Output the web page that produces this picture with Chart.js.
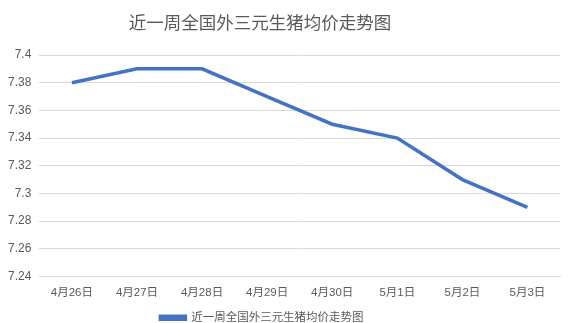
<!DOCTYPE html>
<html>
<head>
<meta charset="utf-8">
<script src="https://cdn.jsdelivr.net/npm/chart.js@4"></script>
<style>
  html, body { margin: 0; padding: 0; background: #fff; }
  #wrap { width: 576px; height: 323px; }
</style>
</head>
<body>
<div id="wrap"><canvas id="grafica" width="576" height="323"></canvas></div>
<script>
const titulo = '近一周全国外三元生猪均价走势图';
const fechas = ['4月26日', '4月27日', '4月28日', '4月29日', '4月30日', '5月1日', '5月2日', '5月3日'];
const precios = [7.38, 7.39, 7.39, 7.37, 7.35, 7.34, 7.31, 7.29];
const yMin = 7.24, yMax = 7.4, yPaso = 0.02;

const fuente = "'Liberation Sans', 'Noto Sans CJK SC', sans-serif";
const gris = '#595959';
const azul = '#4472C4';

// el titulo y la leyenda van centrados un poco a la izquierda, como en la imagen
const centrarIzq = {
  id: 'centrarIzq',
  beforeDraw(chart) {
    if (chart.titleBlock) { chart.titleBlock.left = 0; chart.titleBlock.right = 520; }
    if (chart.legend) {
      chart.legend.left = 0; chart.legend.right = 524;
      chart.legend.top = 310; chart.legend.bottom = 323;
    }
  }
};

let grafica1 = document.getElementById('grafica').getContext('2d');
let chart = new Chart(grafica1, {
  type: 'line',
  data: {
    labels: fechas,
    datasets: [{
      label: titulo,
      data: precios,
      borderColor: azul,
      backgroundColor: azul,
      borderWidth: 3.5,
      pointRadius: 0,
      tension: 0,
      fill: false
    }]
  },
  plugins: [centrarIzq],
  options: {
    responsive: false,
    animation: false,
    layout: { padding: { top: 10, right: 16, bottom: 0, left: 0 } },
    plugins: {
      title: {
        display: true,
        text: titulo,
        color: gris,
        font: { family: fuente, size: 17.5, weight: 'normal' },
        padding: { top: 4, bottom: 20 }
      },
      legend: {
        position: 'bottom',
        labels: {
          color: gris,
          font: { family: fuente, size: 11.5 },
          boxWidth: 25,
          boxHeight: 3,
          padding: 2
        }
      },
      tooltip: { enabled: false }
    },
    scales: {
      x: {
        offset: true,
        grid: { display: false, drawTicks: false },
        border: { color: '#d9d9d9' },
        ticks: { color: gris, font: { family: fuente, size: 11.5 }, padding: 9, maxRotation: 0 },
        afterFit: s => { s.height = 23; }
      },
      y: {
        min: yMin,
        max: yMax,
        grid: { color: '#d9d9d9', drawTicks: false },
        border: { display: false },
        ticks: {
          stepSize: yPaso,
          color: gris,
          font: { family: fuente, size: 12 },
          padding: 8,
          callback: v => String(Number(v.toFixed(2)))
        }
      }
    }
  }
});
</script>
</body>
</html>
